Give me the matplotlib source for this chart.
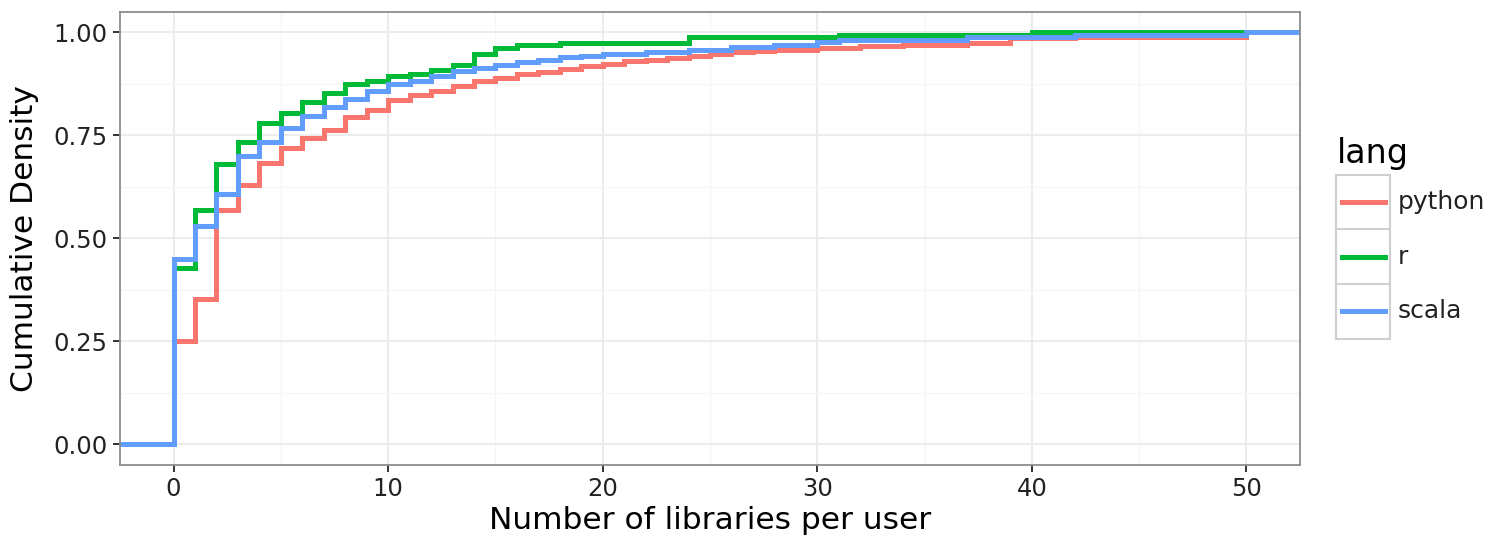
import numpy as np
import matplotlib
matplotlib.use("Agg")
import matplotlib.pyplot as plt
from matplotlib.lines import Line2D
from matplotlib.patches import Rectangle

# ECDF steps: number of libraries -> cumulative density
langs = ["python", "r", "scala"]
colors = ["#F8766D", "#00BA38", "#619CFF"]

python_x = [0, 1, 2, 3, 4, 5, 6, 7, 8, 9, 10, 11, 12, 13, 14, 15, 16, 17, 18, 19,
            20, 21, 22, 23, 24, 25, 26, 27, 28, 30, 32, 34, 37, 39, 42, 46, 50]
python_y = [0.251, 0.354, 0.568, 0.630, 0.682, 0.719, 0.745, 0.763, 0.795, 0.811,
            0.835, 0.849, 0.857, 0.870, 0.882, 0.890, 0.898, 0.904, 0.912, 0.918,
            0.923, 0.930, 0.934, 0.938, 0.944, 0.948, 0.952, 0.956, 0.958, 0.962,
            0.966, 0.970, 0.975, 0.986, 0.989, 0.990, 1.0]

r_x = [0, 1, 2, 3, 4, 5, 6, 7, 8, 9, 10, 11, 12, 13, 14, 15, 16, 18, 24, 31, 40]
r_y = [0.428, 0.569, 0.680, 0.733, 0.779, 0.805, 0.832, 0.853, 0.875, 0.883,
       0.895, 0.900, 0.910, 0.922, 0.948, 0.962, 0.969, 0.974, 0.988, 0.995, 1.0]

scala_x = [0, 1, 2, 3, 4, 5, 6, 7, 8, 9, 10, 11, 12, 13, 14, 15, 16, 17, 18, 19,
           20, 22, 24, 26, 28, 30, 31, 37, 42, 50]
scala_y = [0.451, 0.531, 0.609, 0.699, 0.733, 0.769, 0.797, 0.819, 0.839, 0.859,
           0.875, 0.883, 0.894, 0.906, 0.914, 0.922, 0.928, 0.934, 0.940, 0.944,
           0.948, 0.952, 0.958, 0.964, 0.970, 0.976, 0.982, 0.988, 0.993, 1.0]

series = [(python_x, python_y), (r_x, r_y), (scala_x, scala_y)]

xlim = (-2.5, 52.5)
ylim = (-0.05, 1.05)

fig = plt.figure(figsize=(14.88, 5.4), dpi=100)
ax = fig.add_axes([0.0806, 0.139, 0.7931, 0.839])

for (xs, ys), c in zip(series, colors):
    # pad with the plot edges like stat_ecdf does with -Inf / Inf
    x = [xlim[0]] + list(xs) + [xlim[1]]
    y = [0.0] + list(ys) + [ys[-1]]
    ax.step(x, y, where="post", color=c, lw=3.6, solid_joinstyle="miter")

ax.set_xlim(*xlim)
ax.set_ylim(*ylim)
ax.set_xticks([0, 10, 20, 30, 40, 50])
ax.set_xticks([5, 15, 25, 35, 45], minor=True)
ax.set_yticks([0, 0.25, 0.5, 0.75, 1.0])
ax.set_yticklabels(["0.00", "0.25", "0.50", "0.75", "1.00"])
ax.set_yticks([0.125, 0.375, 0.625, 0.875], minor=True)
ax.grid(which="major", color="#ebebeb", lw=1.3)
ax.grid(which="minor", color="#f5f5f5", lw=1.0)
ax.set_axisbelow(True)
for s in ax.spines.values():
    s.set_color("#8c8c8c")
    s.set_linewidth(1.3)
ax.tick_params(which="major", length=5, width=1.4, color="#333333",
               labelsize=17.5, labelcolor="#222222", pad=4)
ax.tick_params(which="minor", length=0)
ax.set_xlabel("Number of libraries per user", fontsize=22.5, labelpad=3)
ax.set_ylabel("Cumulative Density", fontsize=22.5, labelpad=10)

# legend with boxed keys, ggplot style
W, H = 1488.0, 540.0
fig.text(1337 / W, 1 - 163 / H, "lang", fontsize=24, ha="left", va="baseline")
for i, (lab, c) in enumerate(zip(langs, colors)):
    top = 175 + i * 54.5
    fig.patches.append(Rectangle((1336 / W, 1 - (top + 54.5) / H), 54 / W, 54.5 / H,
                                 transform=fig.transFigure, facecolor="white",
                                 edgecolor="#d0d0d0", lw=1.5))
    yc = 1 - (top + 27) / H
    fig.lines.append(Line2D([1342 / W, 1385 / W], [yc, yc], transform=fig.transFigure,
                            color=c, lw=3.6))
    fig.text(1398 / W, yc, lab, fontsize=18, ha="left", va="center", color="#222222")

fig.savefig("out.png", dpi=100)
